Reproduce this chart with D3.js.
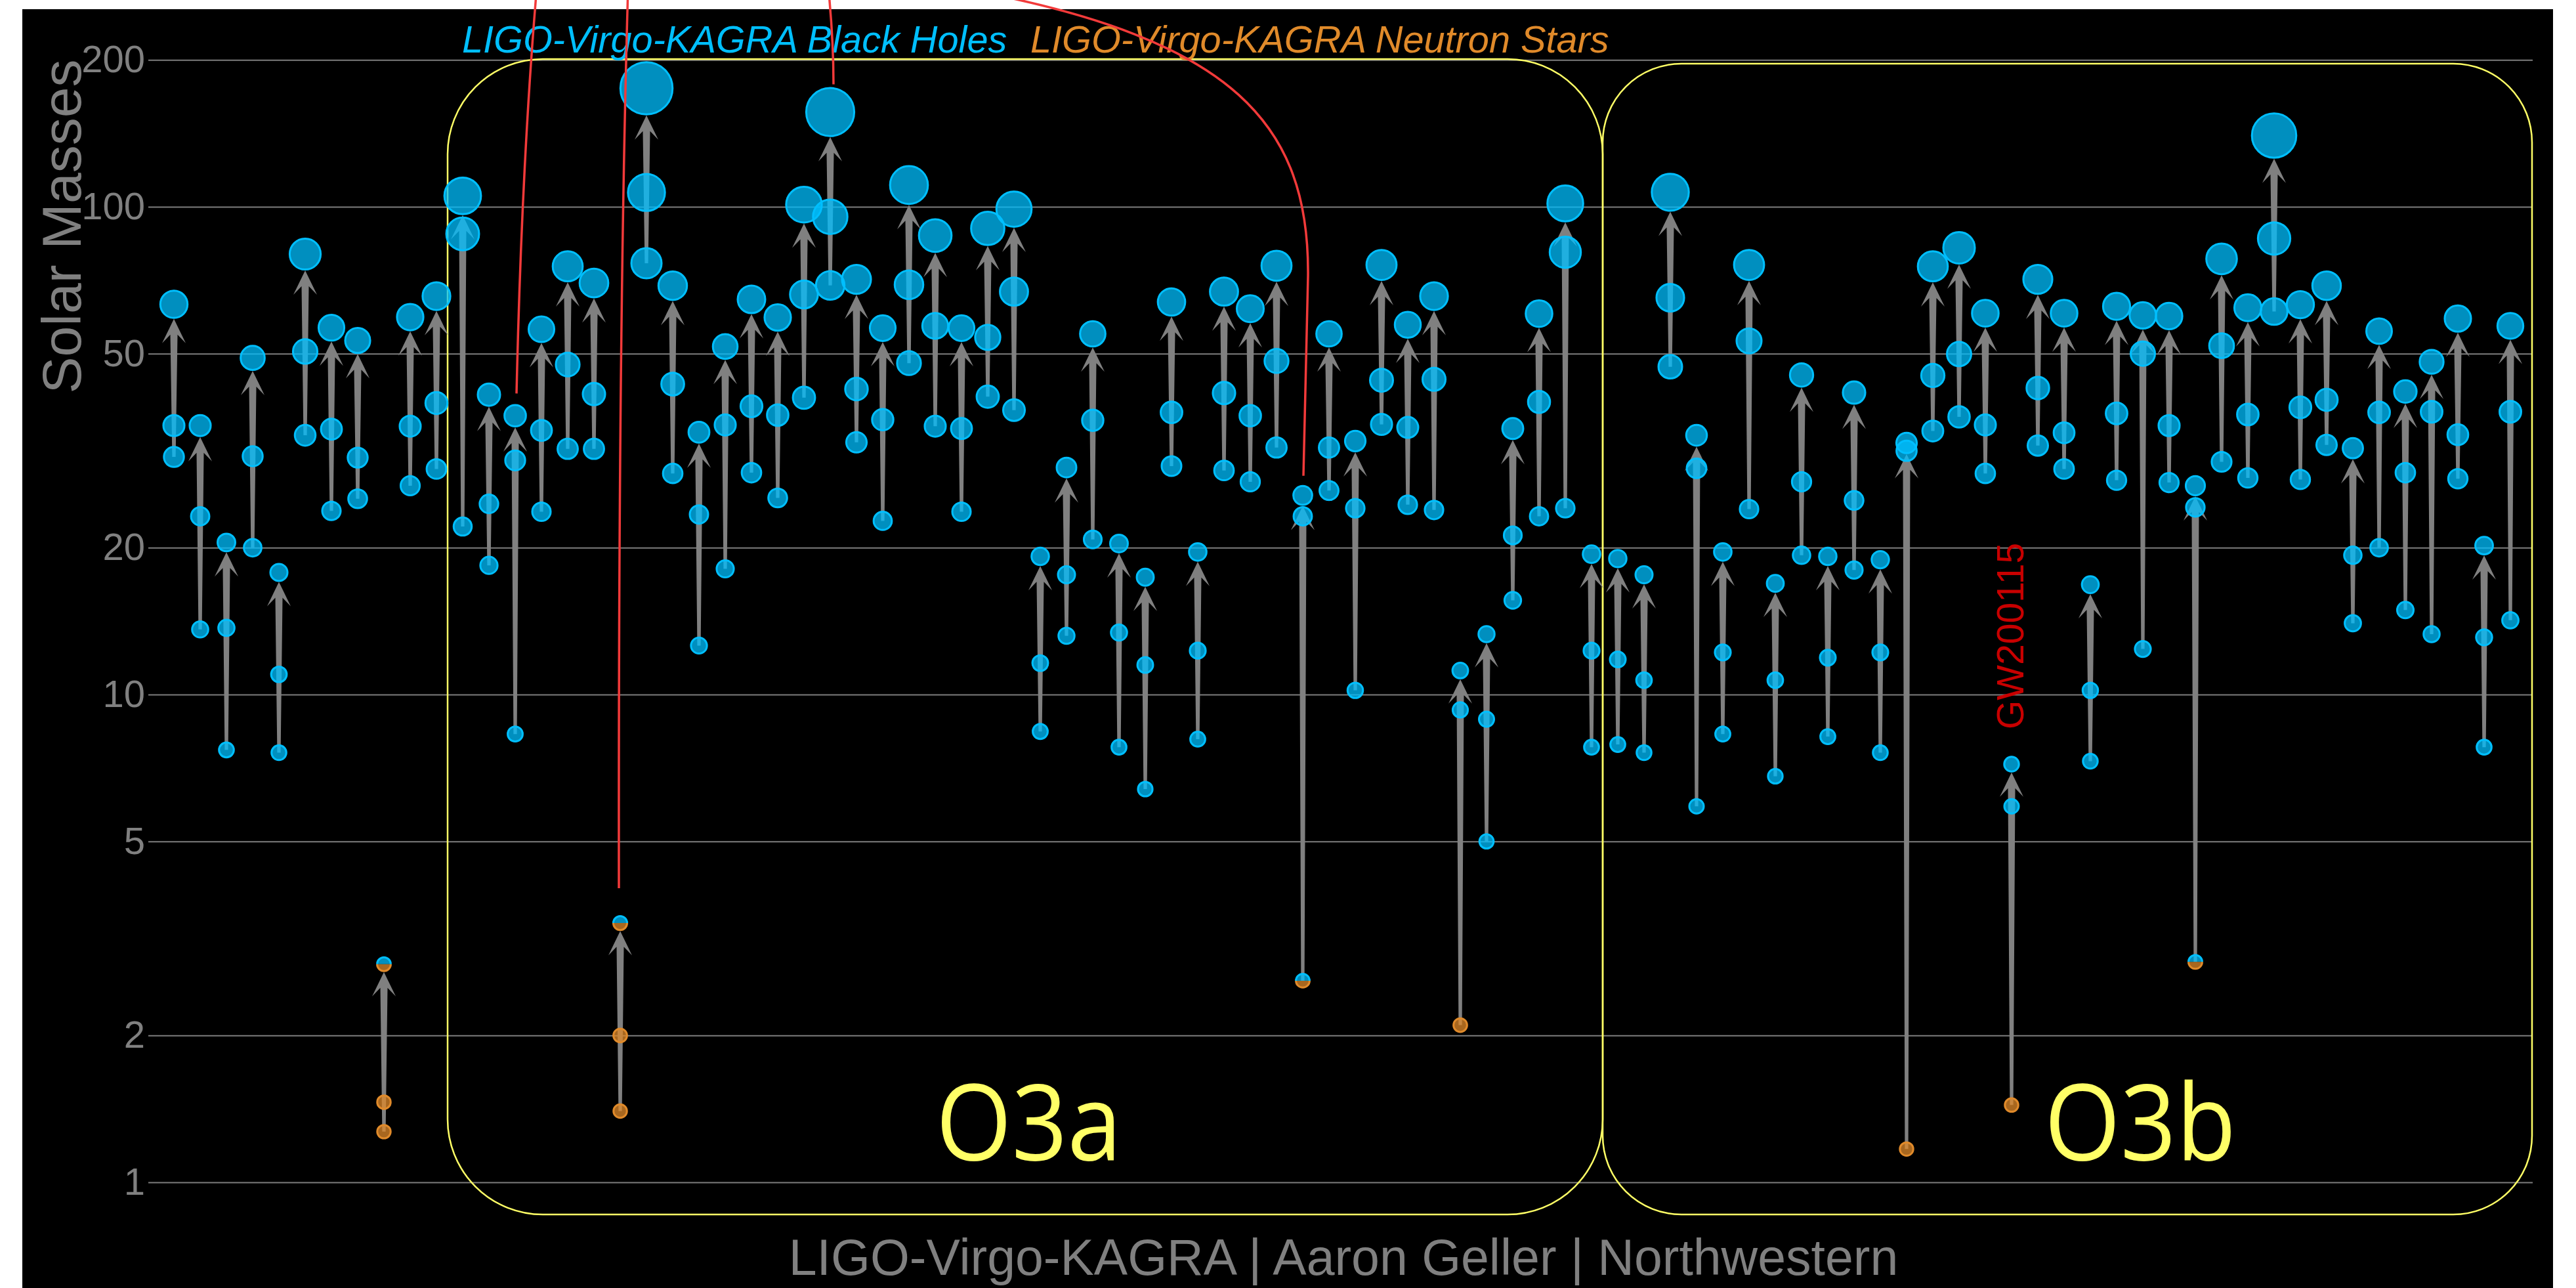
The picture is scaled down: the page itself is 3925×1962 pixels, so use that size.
<!DOCTYPE html>
<html>
<head>
<meta charset="utf-8">
<script src="https://cdn.jsdelivr.net/npm/d3@7"></script>
<style>
  html, body { margin: 0; padding: 0; background: #ffffff; }
  svg { display: block; }
</style>
</head>
<body>
<svg id="chart" width="3925" height="1962"></svg>
<script>
// Compact binary mergers: component masses and remnant mass (solar masses), in catalogue order.
const events = [
  'GW150914','GW151012','GW151226','GW170104','GW170608','GW170729','GW170809','GW170814','GW170817','GW170818','GW170823',
  'GW190403_051519','GW190408_181802','GW190412','GW190413_052954','GW190413_134308','GW190421_213856','GW190425','GW190426_190642',
  'GW190503_185404','GW190512_180714','GW190513_205428','GW190514_065416','GW190517_055101','GW190519_153544','GW190521','GW190521_074359',
  'GW190527_092055','GW190602_175927','GW190620_030421','GW190630_185205','GW190701_203306','GW190706_222641','GW190707_093326','GW190708_232457',
  'GW190719_215514','GW190720_000836','GW190725_174728','GW190727_060333','GW190728_064510','GW190731_140936','GW190803_022701','GW190805_211137',
  'GW190814','GW190828_063405','GW190828_065509','GW190910_112807','GW190915_235702','GW190916_200658','GW190917_114630','GW190924_021846',
  'GW190925_232845','GW190926_050336','GW190929_012149','GW190930_133541',
  'GW191103_012549','GW191105_143521','GW191109_010717','GW191113_071753','GW191126_115259','GW191127_050227','GW191129_134029','GW191204_110529',
  'GW191204_171526','GW191215_223052','GW191216_213338','GW191219_163120','GW191222_033537','GW191230_180458','GW200112_155838','GW200115_042309',
  'GW200128_022011','GW200129_065458','GW200202_154313','GW200208_130117','GW200208_222617','GW200209_085452','GW200210_092254','GW200216_220804',
  'GW200219_094415','GW200220_061928','GW200220_124850','GW200224_222234','GW200225_060421','GW200302_015811','GW200306_093714','GW200308_173609',
  'GW200311_115853','GW200316_215756','GW200322_091133'
];

const massPrimary = [
  35.6, 23.2, 13.7, 30.8, 11.0, 50.5, 35.0, 30.6, 1.46, 35.5, 39.6,
  88.0, 24.6, 30.2, 34.8, 47.5, 41.3, 2.0, 107, 43.3, 23.4, 35.7, 39.0, 37.4, 66.1, 95.4, 42.3,
  36.6, 69.2, 57.0, 35.1, 54.0, 67.0, 11.6, 17.6, 36.5, 13.4, 11.5, 37.9, 12.3, 41.5, 37.3, 48.3,
  23.2, 32.1, 24.1, 44.1, 35.3, 44.3, 9.3, 8.9, 21.2, 39.8, 80.7, 12.3,
  11.8, 10.7, 65.1, 29.1, 12.2, 53.1, 10.7, 27.3, 11.9, 25.0, 12.2, 31.6, 45.1, 49.9, 35.7, 5.9,
  42.5, 34.4, 10.2, 37.7, 50.0, 35.6, 24.2, 51.9, 37.5, 86.1, 38.8, 40.2, 19.3, 37.9, 28.5, 38.0,
  34.1, 13.1, 38.0
];

const massSecondary = [
  30.7, 13.6, 7.7, 20.0, 7.6, 34.0, 23.8, 25.2, 1.27, 26.8, 29.0,
  22.1, 18.4, 8.3, 23.7, 31.9, 31.9, 1.4, 76.6, 28.4, 12.6, 18.1, 28.5, 25.3, 40.6, 69.0, 32.9,
  22.7, 47.8, 35.5, 23.7, 40.8, 38.3, 8.4, 13.2, 20.8, 7.8, 6.4, 29.4, 8.1, 28.8, 27.3, 32.1,
  2.59, 26.2, 10.2, 35.8, 24.5, 23.9, 2.1, 5.0, 15.6, 23.2, 24.1, 7.8,
  7.9, 7.6, 47.0, 5.9, 8.3, 24.0, 6.8, 19.3, 8.2, 18.0, 7.6, 1.17, 34.7, 37.1, 28.4, 1.44,
  32.4, 29.0, 7.3, 27.5, 12.4, 27.2, 2.83, 30.0, 27.8, 61.0, 27.6, 32.5, 14.0, 20.0, 14.9, 13.3,
  27.7, 7.8, 14.2
];

const massFinal = [
  63.1, 35.6, 20.5, 49.0, 17.8, 80.0, 56.5, 53.2, 2.8, 59.4, 65.6,
  105.3, 41.2, 37.3, 56.1, 75.5, 69.8, 3.4, 175, 68.9, 34.5, 51.7, 64.6, 59.3, 101, 156.4, 71.0,
  56.4, 110.8, 87.3, 56.4, 90.3, 98.9, 19.2, 29.2, 54.9, 20.4, 17.4, 63.8, 19.6, 67.0, 61.8, 75.7,
  25.6, 54.9, 33.1, 76.0, 57.3, 65.6, 11.2, 13.3, 35.1, 60.4, 101.6, 19.4,
  19.0, 17.6, 107.1, 34.0, 19.6, 76.0, 16.9, 45.2, 19.2, 41.6, 18.9, 32.8, 75.5, 82.4, 60.5, 7.2,
  71.0, 60.5, 16.8, 62.5, 59.9, 59.7, 26.8, 78.2, 62.1, 140, 63.0, 68.9, 32.0, 55.6, 41.8, 48.1,
  59.0, 20.2, 57.0
];

// Object class of [primary, secondary, remnant]; events not listed are all black holes.
// 'mix' = mass gap object, drawn half black hole / half neutron star.
const objectKinds = {
  'GW170817':        ['ns', 'ns', 'mix'],
  'GW190425':        ['ns', 'ns', 'mix'],
  'GW190814':        ['bh', 'mix', 'bh'],
  'GW190917_114630': ['bh', 'ns', 'bh'],
  'GW191219_163120': ['bh', 'ns', 'bh'],
  'GW200115_042309': ['bh', 'ns', 'bh'],
  'GW200210_092254': ['bh', 'mix', 'bh']
};

const massTicks = [1, 2, 5, 10, 20, 50, 100, 200];

// Events singled out with callout curves, and the one named on the chart.
const calloutEvents = ['GW190412', 'GW190425', 'GW190521', 'GW190814'];
const namedEvent = 'GW200115_042309';
const namedEventLabel = 'GW200115';

const legendLabels = ['LIGO-Virgo-KAGRA Black Holes', 'LIGO-Virgo-KAGRA Neutron Stars'];
const runLabels = ['O3a', 'O3b'];
const creditText = 'LIGO-Virgo-KAGRA | Aaron Geller | Northwestern';
const axisTitle = 'Solar Masses';

// ---------------------------------------------------------------------------
const W = 3925, H = 1962;
const BH = '#00bfff', NS = '#e08a2a', GRID = '#7d7d7d', TEXT = '#808080', RUN = '#ffff66';
const FONT = "'Liberation Sans', Arial, Helvetica, sans-serif";

const svg = d3.select('#chart');

const x = d3.scalePoint().domain(events).range([265, 3825]);
const y = d3.scaleLog().domain([1, 200]).range([1801, 1801 - 743 * Math.log10(200)]);
const r = d3.scaleLinear().domain([0, 200]).range([10, 44]);

const rows = events.map((name, i) => {
  const kinds = objectKinds[name] || ['bh', 'bh', 'bh'];
  return {
    name,
    m1: massPrimary[i], m2: massSecondary[i], mf: massFinal[i],
    k1: kinds[0], k2: kinds[1], kf: kinds[2]
  };
});

// Plot background
svg.append('rect')
  .attr('x', 34).attr('y', 14)
  .attr('width', 3890 - 34).attr('height', H - 14)
  .attr('fill', '#000000');

// Log axis with full-width grid lines
const gridLeft = 226, gridRight = 3859;
const axis = svg.append('g')
  .attr('transform', `translate(${gridLeft},0)`)
  .call(d3.axisLeft(y)
    .tickValues(massTicks)
    .tickFormat(d3.format('d'))
    .tickSize(-(gridRight - gridLeft))
    .tickPadding(5));
axis.select('.domain').remove();
axis.selectAll('.tick line').attr('stroke', GRID).attr('stroke-width', 2);
axis.selectAll('.tick text')
  .attr('fill', TEXT)
  .attr('font-family', FONT)
  .attr('font-size', 58);

// Observing-run frames
const runBoxes = [
  { x0: 682, y0: 90, x1: 2442, y1: 1850, rad: 145 },
  { x0: 2442, y0: 97, x1: 3858, y1: 1850, rad: 120 }
];
svg.append('g').selectAll('rect')
  .data(runBoxes)
  .join('rect')
  .attr('x', d => d.x0).attr('y', d => d.y0)
  .attr('width', d => d.x1 - d.x0).attr('height', d => d.y1 - d.y0)
  .attr('rx', d => d.rad).attr('ry', d => d.rad)
  .attr('fill', 'none')
  .attr('stroke', RUN)
  .attr('stroke-width', 2.5);

// Tapered arrows from the lighter component to the remnant
function arrowPath(cx, yBase, yTip) {
  const hw = 18, hl = 37, nd = 24, wt = 5.5, wb = 2.6;
  return `M${cx},${yTip} L${cx + hw},${yTip + hl} L${cx + wt},${yTip + nd} L${cx + wb},${yBase} ` +
         `L${cx - wb},${yBase} L${cx - wt},${yTip + nd} L${cx - hw},${yTip + hl} Z`;
}
svg.append('g').selectAll('path')
  .data(rows)
  .join('path')
  .attr('d', d => {
    const cx = x(d.name);
    const yBase = y(Math.min(d.m1, d.m2));
    const yTip = y(d.mf) + r(d.mf) + 1.5;
    return arrowPath(cx, yBase, yTip);
  })
  .attr('fill', '#808080');

// Mass circles
const dots = [];
rows.forEach(d => {
  dots.push({ name: d.name, m: d.mf, k: d.kf });
  dots.push({ name: d.name, m: d.m1, k: d.k1 });
  dots.push({ name: d.name, m: d.m2, k: d.k2 });
});
const colorOf = k => (k === 'ns' ? NS : BH);

const dotLayer = svg.append('g');
dotLayer.selectAll('circle')
  .data(dots.filter(d => d.k !== 'mix'))
  .join('circle')
  .attr('cx', d => x(d.name))
  .attr('cy', d => y(d.m))
  .attr('r', d => r(d.m))
  .attr('fill', d => colorOf(d.k))
  .attr('fill-opacity', 0.75)
  .attr('stroke', d => colorOf(d.k))
  .attr('stroke-width', 3);

// Mass-gap objects: upper half black hole colour, lower half neutron star colour
const halves = [];
dots.filter(d => d.k === 'mix').forEach(d => {
  halves.push({ ...d, upper: true, color: BH });
  halves.push({ ...d, upper: false, color: NS });
});
function halfArc(d, closed) {
  const cx = x(d.name), cy = y(d.m), rr = r(d.m);
  const sweep = d.upper ? 1 : 0;
  return `M${cx - rr},${cy} A${rr},${rr} 0 0 ${sweep} ${cx + rr},${cy}` + (closed ? ' Z' : '');
}
dotLayer.selectAll('path.fillhalf')
  .data(halves)
  .join('path')
  .attr('class', 'fillhalf')
  .attr('d', d => halfArc(d, true))
  .attr('fill', d => d.color)
  .attr('fill-opacity', 0.75);
dotLayer.selectAll('path.edgehalf')
  .data(halves)
  .join('path')
  .attr('class', 'edgehalf')
  .attr('d', d => halfArc(d, false))
  .attr('fill', 'none')
  .attr('stroke', d => d.color)
  .attr('stroke-width', 3);

// Run labels
const runText = [
  { label: runLabels[0], x: 1426, len: 283 },
  { label: runLabels[1], x: 3115, len: 292 }
];
svg.append('g').selectAll('text')
  .data(runText)
  .join('text')
  .attr('x', d => d.x).attr('y', 1767)
  .attr('textLength', d => d.len)
  .attr('lengthAdjust', 'spacingAndGlyphs')
  .attr('font-family', "'Open Sans', 'Noto Sans', sans-serif")
  .attr('font-size', 162)
  .attr('fill', RUN)
  .text(d => d.label);

// Named event label (vertical)
const named = rows.find(d => d.name === namedEvent);
svg.append('text')
  .attr('transform', `translate(${x(named.name) + 18},${y(named.mf) - 53}) rotate(-90)`)
  .attr('font-family', FONT)
  .attr('font-size', 57)
  .attr('fill', '#c80000')
  .text(namedEventLabel);

// Legend
svg.append('g').selectAll('text')
  .data([{ t: legendLabels[0], x: 704, c: BH }, { t: legendLabels[1], x: 1570, c: NS }])
  .join('text')
  .attr('x', d => d.x).attr('y', 80)
  .attr('font-family', FONT)
  .attr('font-style', 'italic')
  .attr('font-size', 57.7)
  .attr('fill', d => d.c)
  .text(d => d.t);

// Axis title
svg.append('text')
  .attr('transform', 'translate(123,345) rotate(-90)')
  .attr('text-anchor', 'middle')
  .attr('font-family', FONT)
  .attr('font-size', 84)
  .attr('fill', TEXT)
  .text(axisTitle);

// Credit line
svg.append('text')
  .attr('x', 2047).attr('y', 1942)
  .attr('text-anchor', 'middle')
  .attr('font-family', FONT)
  .attr('font-size', 77)
  .attr('fill', TEXT)
  .text(creditText);

// Callout curves dropping in from above the frame onto notable remnants
function topOf(name) {
  const d = rows.find(e => e.name === name);
  return { cx: x(name), top: y(d.mf) - r(d.mf) - 1.5 };
}
const callouts = calloutEvents.map(name => topOf(name));
const calloutPaths = [
  (p) => `M818,-20 Q795,250 ${p.cx + 2},${p.top - 16}`,
  (p) => `M957,-20 Q942,500 ${p.cx - 2},${p.top - 41}`,
  (p) => `M1262,-20 Q1270,60 ${p.cx + 5},${p.top - 4}`,
  (p) => `M1480,-15 C1880,60 1995,190 1993,420 L${p.cx + 1},${p.top - 14}`
];
svg.append('g').selectAll('path')
  .data(callouts)
  .join('path')
  .attr('d', (p, i) => calloutPaths[i](p))
  .attr('fill', 'none')
  .attr('stroke', '#f23a3a')
  .attr('stroke-width', 3.5);
</script>
</body>
</html>
